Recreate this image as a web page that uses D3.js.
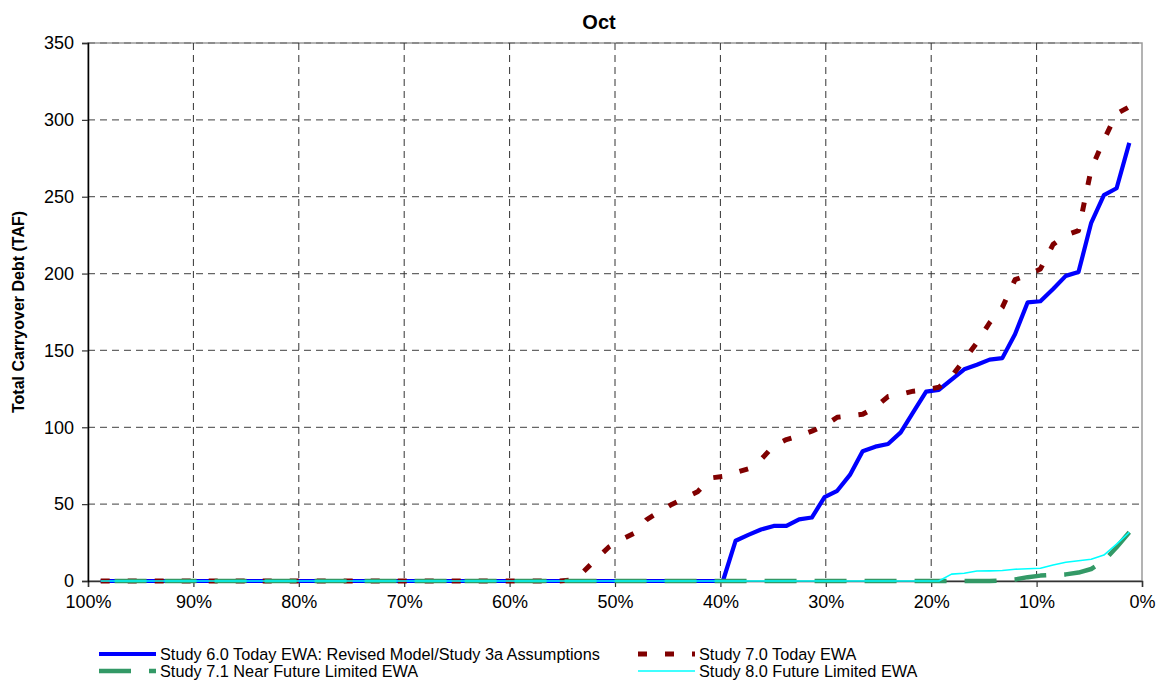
<!DOCTYPE html>
<html lang="en">
<head>
  <meta charset="UTF-8">
  <title>Oct</title>
  <script src="https://d3js.org/d3.v7.min.js"></script>
  <style>
    body { margin: 0; background: #fff; }
    text { font-family: "Liberation Sans", Arial, sans-serif; fill: #000; }
  </style>
</head>
<body>
  <div id="chart"></div>
  <script>
    // values ranked from largest (rank 1) to smallest (rank 82), TAF
    const study60 = [285, 255.5, 251, 233, 201, 198.5, 190, 182, 181.3, 160.5,
      145, 144, 140.7, 137.7, 131, 124.3, 123.2, 110, 96.7, 89.1,
      87.4, 84.4, 69, 58.7, 54.5, 41.3, 40.1, 35.8, 35.8, 33.5,
      30, 26.2, 0, 0, 0, 0, 0, 0, 0, 0,
      0, 0, 0, 0, 0, 0, 0, 0, 0, 0,
      0, 0, 0, 0, 0, 0, 0, 0, 0, 0,
      0, 0, 0, 0, 0, 0, 0, 0, 0, 0,
      0, 0, 0, 0, 0, 0, 0, 0, 0, 0,
      0, 0];
    const study70 = [308.5, 304, 287, 268, 228, 225, 219, 203, 199, 196,
      178, 168, 155, 144, 133, 126, 124.5, 123.5, 121.5, 120,
      113, 108.5, 107.5, 106.5, 101, 97.5, 94.5, 92, 88, 79,
      73, 70.5, 68, 67, 58, 54, 50, 45, 40, 31,
      27, 22, 14, 6, 0.5, 0, 0, 0, 0, 0,
      0, 0, 0, 0, 0, 0, 0, 0, 0, 0,
      0, 0, 0, 0, 0, 0, 0, 0, 0, 0,
      0, 0, 0, 0, 0, 0, 0, 0, 0, 0,
      0, 0];
    const study71 = [31.7, 22, 13, 7.8, 5.5, 4.3, 4, 3.5, 2.5, 1,
      0.3, 0, 0, 0, 0, 0, 0, 0, 0, 0,
      0, 0, 0, 0, 0, 0, 0, 0, 0, 0,
      0, 0, 0, 0, 0, 0, 0, 0, 0, 0,
      0, 0, 0, 0, 0, 0, 0, 0, 0, 0,
      0, 0, 0, 0, 0, 0, 0, 0, 0, 0,
      0, 0, 0, 0, 0, 0, 0, 0, 0, 0,
      0, 0, 0, 0, 0, 0, 0, 0, 0, 0,
      0, 0];
    const study80 = [31.7, 24, 16.9, 14.1, 13.2, 12.2, 10.4, 8.3, 8, 7.6,
      6.8, 6.6, 6.5, 5, 4.5, 0, 0, 0, 0, 0,
      0, 0, 0, 0, 0, 0, 0, 0, 0, 0,
      0, 0, 0, 0, 0, 0, 0, 0, 0, 0,
      0, 0, 0, 0, 0, 0, 0, 0, 0, 0,
      0, 0, 0, 0, 0, 0, 0, 0, 0, 0,
      0, 0, 0, 0, 0, 0, 0, 0, 0, 0,
      0, 0, 0, 0, 0, 0, 0, 0, 0, 0,
      0, 0];

    const seriesNames = [
      "Study 6.0 Today EWA: Revised Model/Study 3a Assumptions",
      "Study 7.0 Today EWA",
      "Study 7.1 Near Future Limited EWA",
      "Study 8.0 Future Limited EWA"
    ];
    const xTicks = [100, 90, 80, 70, 60, 50, 40, 30, 20, 10, 0];
    const yTicks = [0, 50, 100, 150, 200, 250, 300, 350];

    const width = 1156, height = 680;
    const margin = { top: 43, right: 14, bottom: 99, left: 88 };

    const svg = d3.select("#chart").append("svg")
      .attr("width", width)
      .attr("height", height);

    const x = d3.scaleLinear().domain([100, 0]).range([margin.left, width - margin.right]);
    const y = d3.scaleLinear().domain([0, 350]).range([height - margin.bottom, margin.top]);

    // plot area border
    svg.append("rect")
      .attr("x", x(100)).attr("y", y(350))
      .attr("width", x(0) - x(100)).attr("height", y(0) - y(350))
      .attr("fill", "none").attr("stroke", "#9a9a9a").attr("stroke-width", 1.5);

    // gridlines
    svg.append("g").selectAll("line")
      .data(yTicks.filter(d => d > 0))
      .join("line")
      .attr("x1", x(100)).attr("x2", x(0))
      .attr("y1", d => y(d)).attr("y2", d => y(d))
      .attr("stroke", "#666").attr("stroke-width", 1.2)
      .attr("stroke-dasharray", "7,5");

    svg.append("g").selectAll("line")
      .data(xTicks.filter(d => d > 0 && d < 100))
      .join("line")
      .attr("x1", d => x(d)).attr("x2", d => x(d))
      .attr("y1", y(350)).attr("y2", y(0))
      .attr("stroke", "#333").attr("stroke-width", 1)
      .attr("stroke-dasharray", "7,5");

    // axes
    const xAxis = d3.axisBottom(x).tickValues(xTicks).tickFormat(d => d + "%").tickSize(6).tickPadding(8);
    const yAxis = d3.axisLeft(y).tickValues(yTicks).tickSize(6).tickPadding(8);

    const gx = svg.append("g").attr("transform", `translate(0,${y(0)})`).call(xAxis);
    const gy = svg.append("g").attr("transform", `translate(${x(100)},0)`).call(yAxis);
    [gx, gy].forEach(g => {
      g.select(".domain").attr("stroke", "#333").attr("stroke-width", 1.5);
      g.selectAll(".tick line").attr("stroke", "#333").attr("stroke-width", 1.2);
      g.selectAll("text").attr("font-size", 18).attr("font-family", "Liberation Sans, Arial, sans-serif").attr("fill", "#000");
    });
    gy.select(".domain").attr("stroke", "#000");

    // series (exceedance plotting position rank/(n+1))
    const n = study60.length;
    const exceed = i => (i + 1) * 100 / (n + 1);

    const styles = [
      { data: study60, color: "#0000ff", width: 4.2, dash: null },
      { data: study70, color: "#800000", width: 5, dash: "9,18" },
      { data: study71, color: "#339966", width: 4.5, dash: "32,18", endOnDash: true },
      { data: study80, color: "#00ffff", width: 1.6, dash: null }
    ];

    styles.forEach(s => {
      const path = svg.append("path")
        .datum(s.data.slice().reverse())
        .attr("d", d3.line().x((d, i) => x(exceed(n - 1 - i))).y(d => y(d)))
        .attr("fill", "none")
        .attr("stroke", s.color)
        .attr("stroke-width", s.width)
        .attr("stroke-dasharray", s.dash)
        .attr("stroke-linejoin", "round");
      if (s.endOnDash) {
        // line up the pattern so the last stretch is a dash, as in the original
        const len = path.node().getTotalLength();
        path.attr("stroke-dashoffset", 31 - (len % 50));
      }
    });

    // title and y label
    svg.append("text")
      .attr("x", 599).attr("y", 29)
      .attr("text-anchor", "middle")
      .attr("font-size", 20).attr("font-weight", "bold")
      .text("Oct");

    svg.append("text")
      .attr("transform", `translate(24,${(y(0) + y(350)) / 2}) rotate(-90)`)
      .attr("text-anchor", "middle")
      .attr("font-size", 16).attr("font-weight", "bold")
      .text("Total Carryover Debt (TAF)");

    // legend
    const legendPos = [
      { x: 99, y: 654 }, { x: 638, y: 654 },
      { x: 99, y: 671 }, { x: 638, y: 671 }
    ];
    const legend = svg.append("g").selectAll("g")
      .data(styles)
      .join("g")
      .attr("transform", (d, i) => `translate(${legendPos[i].x},${legendPos[i].y})`);

    legend.append("line")
      .attr("x1", 0).attr("x2", 57).attr("y1", 0).attr("y2", 0)
      .attr("stroke", d => d.color)
      .attr("stroke-width", d => d.width)
      .attr("stroke-dasharray", d => d.dash);

    legend.append("text")
      .attr("x", 61).attr("y", 6)
      .attr("font-size", 16.3)
      .text((d, i) => seriesNames[i]);
  </script>
</body>
</html>
